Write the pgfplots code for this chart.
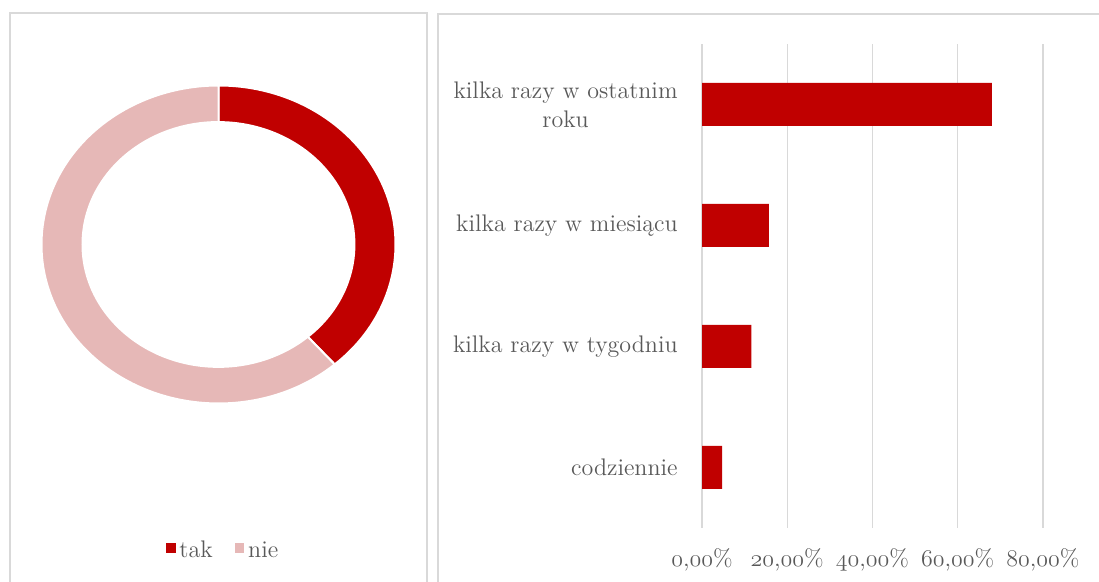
\documentclass[border=0pt]{standalone}
\usepackage{fontspec}
\usepackage{pgfplots}
\pgfplotsset{compat=1.18}
\definecolor{takc}{RGB}{192,0,0}
\definecolor{niec}{RGB}{230,184,183}
\definecolor{panel}{RGB}{217,217,217}
\definecolor{txt}{RGB}{89,89,89}
% old-style digits from the math italic font
\newcommand\osn[1]{\ensuremath{\mathnormal{#1}}}
\newcommand\fs{\fontsize{12}{14.5}\selectfont}
\def\tak{38.6}
\def\nie{61.4}

\begin{document}
\begin{tikzpicture}[x=0.5pt,y=0.5pt]
\clip (0,0) rectangle (1099,582);
% panel frames
\draw[panel, line width=0.75pt] (10,569) rectangle (427,-20);
\draw[panel, line width=0.75pt] (438,568) rectangle (1130,-20);

\pgfmathsetmacro\ea{90-3.6*\tak}

% donut
\begin{axis}[at={(109.25pt,168.75pt)}, anchor=center, scale only axis,
  width=177pt, height=159pt,
  xmin=-1, xmax=1, ymin=-1, ymax=1,
  hide axis, clip=false,
  legend style={at={(0.516,-0.464)}, anchor=center, draw=none, fill=none,
    font=\fs, text=txt, legend columns=2,
    /tikz/every even column/.append style={column sep=9pt}}]
\fill[takc, draw=white, line width=1pt] (axis cs:0,1)
  arc[start angle=90, end angle=\ea, x radius=88.5pt, y radius=79.5pt]
  -- (axis cs:{0.768*cos(\ea)},{0.77*sin(\ea)})
  arc[start angle=\ea, end angle=90, x radius=68pt, y radius=61.2pt] -- cycle;
\fill[niec, draw=white, line width=1pt] (axis cs:{cos(\ea)},{sin(\ea)})
  arc[start angle=\ea, end angle=-270, x radius=88.5pt, y radius=79.5pt]
  -- (axis cs:0,0.77)
  arc[start angle=-270, end angle=\ea, x radius=68pt, y radius=61.2pt] -- cycle;
\addlegendimage{legend image code/.code={\fill[takc] (0pt,-0.5pt) rectangle (4.3pt,3.8pt);}}
\addlegendentry{tak}
\addlegendimage{legend image code/.code={\fill[niec] (0pt,-0.5pt) rectangle (4.3pt,3.8pt);}}
\addlegendentry{nie}
\end{axis}

% bars
\begin{axis}[at={(351pt,27pt)}, anchor=south west, scale only axis,
  width=170.5pt, height=242pt,
  xmin=0, xmax=80, ymin=-0.5, ymax=3.5,
  xbar, bar width=21.5pt,
  xtick={0,20,40,60,80},
  xticklabels={{\osn{0},\osn{00}\%},{\osn{20},\osn{00}\%},{\osn{40},\osn{00}\%},{\osn{60},\osn{00}\%},{\osn{80},\osn{00}\%}},
  ytick={0,1,2,3},
  yticklabels={codziennie,kilka razy w tygodniu,kilka razy w miesiącu,{kilka razy w ostatnim\\roku}},
  xmajorgrids, major grid style={panel, line width=0.75pt},
  axis line style={draw=none}, major tick length=0pt,
  tick label style={font=\fs, text=txt},
  yticklabel style={align=center, anchor=east, inner sep=0pt, xshift=-12pt},
  xticklabel style={anchor=base, inner sep=0pt, yshift=-19.5pt},
  clip=false]
\addplot[fill=takc, draw=none] coordinates {(4.7,0) (11.6,1) (15.7,2) (68.0,3)};
\end{axis}
\end{tikzpicture}
\end{document}
